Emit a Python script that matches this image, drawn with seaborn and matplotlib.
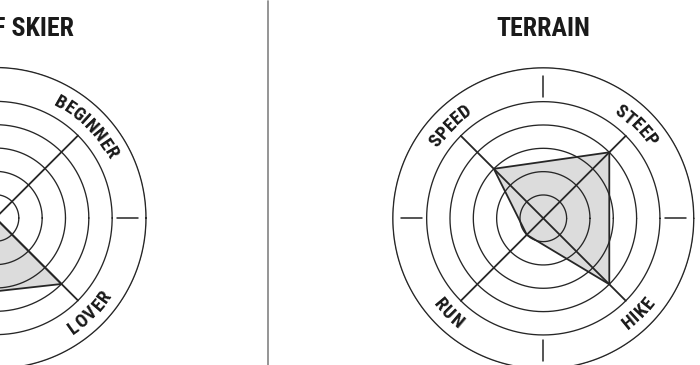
import numpy as np
import pandas as pd
import matplotlib
matplotlib.use("Agg")
import matplotlib.pyplot as plt
from matplotlib.lines import Line2D
from matplotlib import font_manager
import seaborn as sns

# ---- chart data -------------------------------------------------------
skier_axes = ["BEGINNER", "EXPERT", "INTERMEDIATE", "LOVER"]
skier_values = [0, 3, 5, 4]
terrain_axes = ["STEEP", "SPEED", "RUN", "HIKE"]
terrain_values = [4, 3, 1, 4]
titles = ["TYPE OF SKIER", "TERRAIN"]
spoke_deg = [45, 135, 225, 315]
ring_levels = [1, 2, 3, 4, 5]

# ---- style ------------------------------------------------------------
sns.set_theme(style="white")
fonts = font_manager.fontManager.ttflist
bold_families = {f.name for f in fonts if f.weight in (700, "bold") and f.style == "normal"}
preferred = ["Roboto Condensed", "Archivo Narrow", "Fira Sans Condensed",
             "IBM Plex Sans Condensed", "Barlow Semi Condensed", "Barlow Condensed",
             "Liberation Sans Narrow", "Roboto"]
base_font = next((f for f in preferred if f in bold_families), "DejaVu Sans")
plt.rcParams["font.family"] = [base_font, "DejaVu Sans"]

INK = "#262626"
FILL = "#dcdcdc"
W, H, DPI = 7.0, 3.65, 100
FIG_W, FIG_H = W * DPI, H * DPI

RMAX = 6.5          # radial extent of each polar axes
UNIT_PX = 23.33     # pixels per ring step
OUTER_R = 6.45      # outer border circle
LABEL_R = 5.72      # middle of the label band
TICK_R = (5.22, 6.12)
LABEL_PT = 13.5
TRACK_PX = 0.6

fig = plt.figure(figsize=(W, H), dpi=DPI)
fig.patch.set_facecolor("white")
renderer = fig.canvas.get_renderer()
label_fp = font_manager.FontProperties(family=[base_font, "DejaVu Sans"],
                                       weight="heavy", size=LABEL_PT)


def text_width(s):
    t = fig.text(0, 0, s, fontproperties=label_fp)
    w = t.get_window_extent(renderer).width
    t.remove()
    return w


def arc_label(ax, center_px, text, theta_deg):
    """Write a label letter by letter along the circular label band."""
    cap_px = 0.71 * LABEL_PT * DPI / 72
    radius_px = LABEL_R * UNIT_PX
    widths = [text_width(text[:i]) if i else 0.0 for i in range(len(text) + 1)]
    centers = [(widths[i] + widths[i + 1]) / 2 + i * TRACK_PX for i in range(len(text))]
    total = widths[-1] + (len(text) - 1) * TRACK_PX
    upper = 0 < theta_deg < 180
    base_r = LABEL_R - (cap_px / 2) / UNIT_PX if upper else LABEL_R + (cap_px / 2) / UNIT_PX
    for ch, s in zip(text, centers):
        off = np.degrees((total / 2 - s) / radius_px)
        ang = theta_deg + off if upper else theta_deg - off
        # letters that would sit beyond the figure edge are left out
        x_px = center_px + base_r * UNIT_PX * np.cos(np.radians(ang))
        if x_px < 0:
            continue
        rot = ang - 90 if upper else ang + 90
        ax.text(np.radians(ang), base_r, ch, rotation=rot, rotation_mode="anchor",
                ha="center", va="baseline", fontproperties=label_fp, color="#1a1a1a")


def add_radar(cx, cy_top, names, values, title):
    size = 2 * RMAX * UNIT_PX
    rect = [(cx - size / 2) / FIG_W, ((FIG_H - cy_top) - size / 2) / FIG_H,
            size / FIG_W, size / FIG_H]
    ax = fig.add_axes(rect, projection="polar")
    ax.set_theta_zero_location("E")
    ax.set_theta_direction(1)
    ax.set_ylim(0, RMAX)
    ax.grid(False)
    ax.set_xticks([])
    ax.set_yticks([])
    ax.spines["polar"].set_visible(False)
    ax.patch.set_alpha(0)

    # value polygon
    df = pd.DataFrame({"axis": names + names[:1],
                       "theta": np.radians(spoke_deg + spoke_deg[:1]),
                       "value": values + values[:1]})
    ax.fill(df["theta"], df["value"], color=FILL, zorder=1, lw=0)

    # rings, border, spokes and tick marks
    circle = np.linspace(0, 2 * np.pi, 721)
    for r in ring_levels:
        ax.plot(circle, np.full_like(circle, r), color=INK, lw=0.95, zorder=2)
    ax.plot(circle, np.full_like(circle, OUTER_R), color=INK, lw=1.0, zorder=2)
    for d in spoke_deg:
        ax.plot([np.radians(d)] * 2, [0, ring_levels[-1]], color=INK, lw=1.3, zorder=3)
    for d in (0, 90, 180, 270):
        ax.plot([np.radians(d)] * 2, list(TICK_R), color=INK, lw=1.1, zorder=3)

    sns.lineplot(data=df, x="theta", y="value", sort=False, estimator=None,
                 color=INK, lw=1.3, ax=ax, zorder=4)
    ax.set_xlabel("")
    ax.set_ylabel("")

    for name, d in zip(names, spoke_deg):
        arc_label(ax, cx, name, d)

    fig.text(cx / FIG_W, 1 - 36 / FIG_H, title, ha="center", va="baseline",
             fontsize=18.6, fontweight="bold", color="#1a1a1a")
    return ax


add_radar(-4.5, 218.0, skier_axes, skier_values, titles[0])
add_radar(543.3, 218.3, terrain_axes, terrain_values, titles[1])

# column divider
fig.add_artist(Line2D([268 / FIG_W] * 2, [0.0, 1 - 1 / FIG_H],
                      color="#8c8c8c", lw=1.3))

fig.savefig("out.png", dpi=DPI, facecolor="white")
